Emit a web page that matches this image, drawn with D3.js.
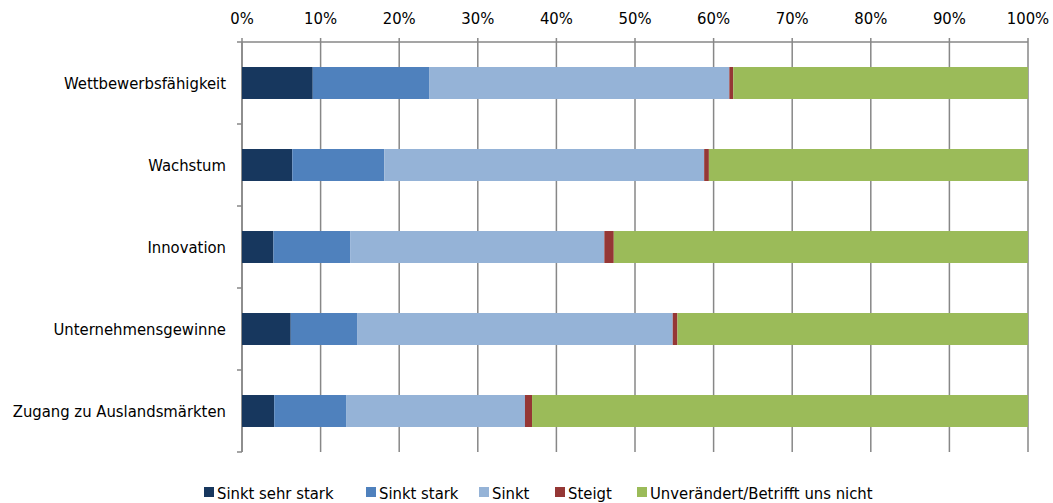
<!DOCTYPE html>
<html><head><meta charset="utf-8">
<script src="https://cdn.jsdelivr.net/npm/d3@7"></script>
<style>
body{margin:0;background:#fff;}
text{font-family:Tahoma,"DejaVu Sans Condensed","DejaVu Sans",sans-serif;fill:#000;}
</style></head><body>
<svg id="chart" width="1053" height="503"></svg>
<script>
const categories = ["Wettbewerbsfähigkeit","Wachstum","Innovation","Unternehmensgewinne","Zugang zu Auslandsmärkten"];
const seriesNames = ["Sinkt sehr stark","Sinkt stark","Sinkt","Steigt","Unverändert/Betrifft uns nicht"];
const sinktSehrStark = [9.0, 6.4, 4.0, 6.2, 4.1];
const sinktStark     = [14.8, 11.7, 9.8, 8.5, 9.2];
const sinkt          = [38.2, 40.7, 32.3, 40.1, 22.7];
const steigt         = [0.5, 0.6, 1.2, 0.6, 0.9];
const unveraendert   = [37.5, 40.6, 52.7, 44.6, 63.1];
const tickValues = [0,10,20,30,40,50,60,70,80,90,100];
const colors = ["#17375E","#4F81BD","#95B3D7","#953735","#9BBB59"];

const seriesData = [sinktSehrStark, sinktStark, sinkt, steigt, unveraendert];
const rows = categories.map((c,i)=>{
  const r = {cat:c};
  seriesNames.forEach((s,j)=> r[s] = seriesData[j][i]);
  return r;
});

const svg = d3.select("#chart");
const mLeft = 242, mRight = 1028, mTop = 42, mBottom = 452;
const fs = "16.5px";
const x = d3.scaleLinear().domain([0,100]).range([mLeft,mRight]);
const y = d3.scaleBand().domain(categories).range([mTop,mBottom]).paddingInner(0.61).paddingOuter(0.305);
const yb = d3.scaleBand().domain(categories).range([mTop,mBottom]);

const gridColor = "#878787";
svg.append("g").selectAll("line").data(tickValues).join("line")
  .attr("x1",d=>x(d)).attr("x2",d=>x(d)).attr("y1",mTop-4).attr("y2",mBottom)
  .attr("stroke",gridColor).attr("stroke-width",1.5);
svg.append("line").attr("x1",mLeft).attr("x2",mRight).attr("y1",mTop).attr("y2",mTop)
  .attr("stroke",gridColor).attr("stroke-width",1.5);
svg.append("line").attr("x1",mLeft).attr("x2",mLeft).attr("y1",mTop).attr("y2",mBottom)
  .attr("stroke",gridColor).attr("stroke-width",1.5);
const bounds = categories.map(c=>yb(c)).concat([mBottom]);
svg.append("g").selectAll("line").data(bounds).join("line")
  .attr("x1",mLeft-5).attr("x2",mLeft).attr("y1",d=>d).attr("y2",d=>d)
  .attr("stroke",gridColor).attr("stroke-width",1.5);

svg.append("g").selectAll("text").data(tickValues).join("text")
  .attr("x",d=>x(d)).attr("y",24).attr("text-anchor","middle")
  .style("font-size",fs).text(d=>d+"%");

const stack = d3.stack().keys(seriesNames)(rows);
svg.append("g").selectAll("g").data(stack).join("g")
  .attr("fill",(d,i)=>colors[i])
  .selectAll("rect").data(d=>d).join("rect")
  .attr("x",d=>x(d[0])).attr("width",d=>x(d[1])-x(d[0]))
  .attr("y",d=>y(d.data.cat)).attr("height",y.bandwidth());

svg.append("g").selectAll("text").data(categories).join("text")
  .attr("x",226).attr("y",d=>yb(d)+yb.bandwidth()/2+5.5).attr("text-anchor","end")
  .style("font-size",fs).text(d=>d);

const legendX = [204, 366, 479, 555, 637];
const lg = svg.append("g").selectAll("g").data(seriesNames).join("g")
  .attr("transform",(d,i)=>`translate(${legendX[i]},487)`);
lg.append("rect").attr("width",10).attr("height",10).attr("fill",(d,i)=>colors[i]);
lg.append("text").attr("x",13).attr("y",11.5).style("font-size",fs).text(d=>d);
</script>
</body></html>
